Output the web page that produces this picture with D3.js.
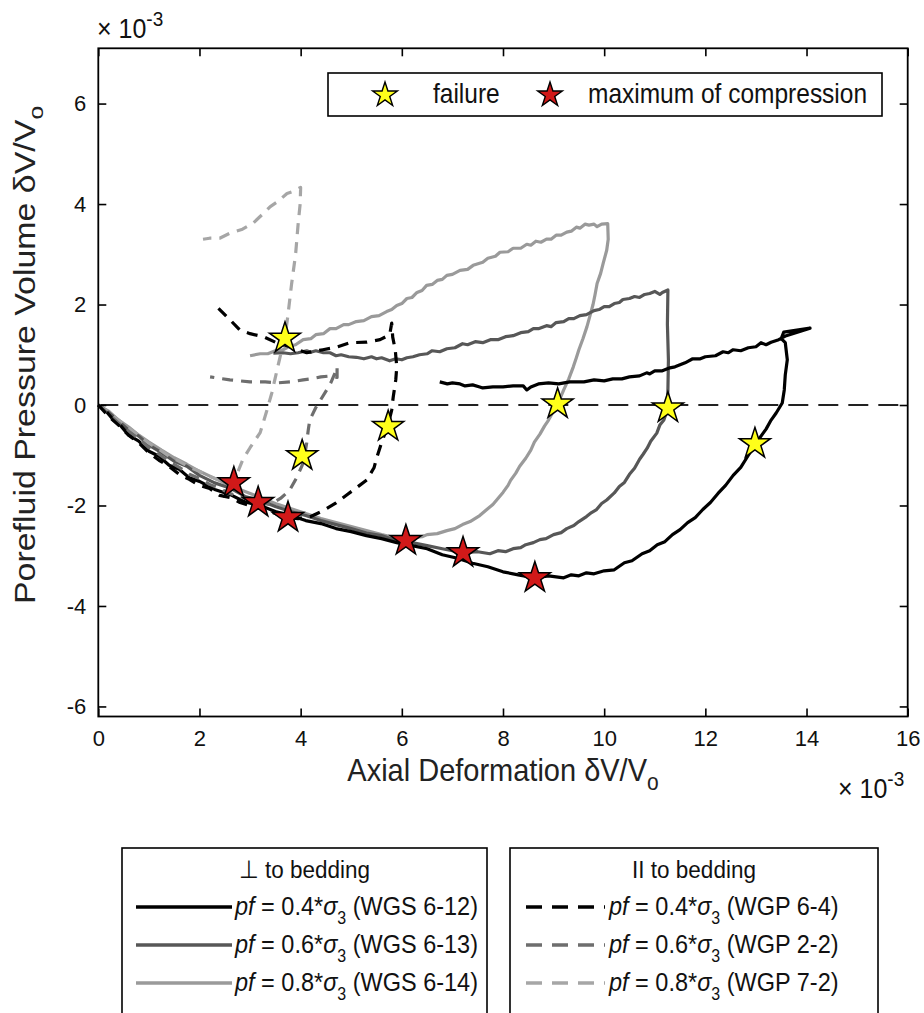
<!DOCTYPE html>
<html>
<head>
<meta charset="utf-8">
<script src="https://cdn.jsdelivr.net/npm/d3@7"></script>
<style>
  html, body { margin: 0; padding: 0; background: #fff; }
  svg { display: block; font-family: "Liberation Sans", Arial, Helvetica, sans-serif; }
</style>
</head>
<body>
<svg id="chart" width="924" height="1013"></svg>
<script>
// Axis ticks (values in units of 1e-3)
const xTicks = [0, 2, 4, 6, 8, 10, 12, 14, 16];
const yTicks = [-6, -4, -2, 0, 2, 4, 6];

// Perpendicular to bedding: solid curves, [axial, porefluid] x 1e-3
const wgs612 = [[0,0],[0.15,-0.12],[0.3,-0.3],[0.45,-0.42],[0.6,-0.6],[0.8,-0.72],[1.0,-0.92],[1.2,-1.02],[1.4,-1.2],[1.6,-1.28],[1.8,-1.45],[2.0,-1.52],[2.3,-1.68],[2.6,-1.78],[2.9,-1.93],[3.2,-2.0],[3.5,-2.12],[3.8,-2.2],[4.1,-2.3],[4.4,-2.36],[4.7,-2.46],[5.0,-2.52],[5.3,-2.6],[5.6,-2.66],[5.9,-2.74],[6.2,-2.8],[6.5,-2.86],[6.8,-2.98],[7.1,-3.05],[7.4,-3.15],[7.7,-3.22],[8.0,-3.32],[8.3,-3.38],[8.63,-3.44],[8.9,-3.4],[9.2,-3.44],[9.35,-3.38],[9.5,-3.4],[9.65,-3.34],[9.8,-3.36],[10.0,-3.3],[10.2,-3.28],[10.4,-3.14],[10.55,-3.1],[10.65,-3.03],[10.75,-2.96],[10.9,-2.9],[11.05,-2.78],[11.2,-2.72],[11.35,-2.58],[11.5,-2.48],[11.65,-2.34],[11.8,-2.24],[11.95,-2.08],[12.1,-1.94],[12.25,-1.76],[12.4,-1.6],[12.55,-1.4],[12.7,-1.24],[12.85,-1.0],[12.98,-0.8],[13.1,-0.62],[13.2,-0.48],[13.3,-0.3],[13.4,-0.16],[13.52,0.04],[13.56,0.3],[13.58,0.6],[13.62,0.9],[13.58,1.24],[13.5,1.32],[13.55,1.45],[14.07,1.53],[13.6,1.38],[13.45,1.3],[13.3,1.25],[13.2,1.2],[13.1,1.24],[13.0,1.16],[12.85,1.14],[12.7,1.08],[12.55,1.1],[12.45,1.04],[12.35,1.06],[12.2,0.98],[12.0,0.96],[11.9,0.92],[11.75,0.92],[11.6,0.84],[11.5,0.8],[11.4,0.76],[11.3,0.74],[11.15,0.68],[11.0,0.68],[10.9,0.62],[10.84,0.64],[10.7,0.58],[10.5,0.56],[10.35,0.52],[10.17,0.52],[10.0,0.48],[9.8,0.5],[9.6,0.46],[9.32,0.46],[9.1,0.42],[8.9,0.44],[8.7,0.42],[8.55,0.36],[8.47,0.3],[8.4,0.38],[8.2,0.38],[8.0,0.36],[7.8,0.36],[7.6,0.34],[7.54,0.36],[7.4,0.4],[7.25,0.38],[7.15,0.42],[7.0,0.44],[6.9,0.42],[6.75,0.46]];
const wgs613 = [[0,0],[0.2,-0.15],[0.4,-0.32],[0.6,-0.5],[0.8,-0.62],[1.0,-0.8],[1.25,-0.95],[1.5,-1.12],[1.75,-1.22],[2.0,-1.4],[2.3,-1.55],[2.6,-1.65],[2.9,-1.82],[3.2,-1.9],[3.5,-2.02],[3.8,-2.12],[4.1,-2.2],[4.4,-2.3],[4.7,-2.38],[5.0,-2.46],[5.3,-2.55],[5.6,-2.6],[5.9,-2.7],[6.2,-2.74],[6.5,-2.8],[6.8,-2.86],[7.0,-2.9],[7.21,-2.94],[7.5,-2.92],[7.74,-2.96],[7.9,-2.9],[8.05,-2.92],[8.2,-2.86],[8.35,-2.84],[8.45,-2.78],[8.6,-2.74],[8.73,-2.68],[8.85,-2.66],[9.0,-2.58],[9.15,-2.54],[9.26,-2.46],[9.4,-2.4],[9.5,-2.32],[9.65,-2.22],[9.75,-2.14],[9.85,-2.08],[9.95,-1.96],[10.05,-1.89],[10.2,-1.75],[10.3,-1.62],[10.4,-1.54],[10.5,-1.38],[10.6,-1.26],[10.7,-1.08],[10.77,-0.98],[10.85,-0.86],[10.92,-0.72],[11.04,-0.56],[11.1,-0.4],[11.18,-0.3],[11.24,-0.12],[11.26,0.3],[11.27,0.9],[11.25,1.6],[11.26,2.29],[11.15,2.24],[11.1,2.2],[11.0,2.26],[10.9,2.22],[10.8,2.2],[10.7,2.14],[10.6,2.16],[10.5,2.12],[10.37,2.1],[10.3,2.04],[10.2,2.02],[10.1,1.96],[10.0,1.96],[9.9,1.9],[9.8,1.88],[9.65,1.8],[9.52,1.78],[9.4,1.72],[9.3,1.72],[9.2,1.66],[9.05,1.64],[8.95,1.56],[8.86,1.58],[8.7,1.52],[8.6,1.52],[8.5,1.46],[8.35,1.44],[8.2,1.38],[8.05,1.36],[7.9,1.3],[7.75,1.3],[7.6,1.24],[7.45,1.26],[7.3,1.2],[7.2,1.22],[7.05,1.14],[6.89,1.12],[6.75,1.06],[6.6,1.08],[6.5,1.02],[6.35,1.0],[6.22,0.96],[6.1,0.94],[6.0,0.9],[5.88,0.92],[5.76,0.88],[5.6,0.94],[5.5,0.92],[5.4,0.96],[5.25,0.92],[5.1,0.95],[4.95,0.96],[4.8,1.0],[4.7,0.98],[4.58,1.04],[4.45,1.04],[4.3,1.08],[4.2,1.05],[4.12,1.08],[3.95,1.04],[3.8,1.02],[3.65,1.04],[3.46,1.03]];
const wgs614 = [[0,0],[0.2,-0.12],[0.4,-0.3],[0.6,-0.44],[0.8,-0.6],[1.0,-0.74],[1.25,-0.9],[1.5,-1.05],[1.75,-1.18],[2.0,-1.32],[2.3,-1.46],[2.6,-1.6],[2.9,-1.72],[3.2,-1.84],[3.5,-1.96],[3.8,-2.06],[4.1,-2.16],[4.4,-2.26],[4.7,-2.34],[5.0,-2.42],[5.3,-2.5],[5.6,-2.58],[5.85,-2.64],[6.08,-2.7],[6.22,-2.64],[6.4,-2.62],[6.5,-2.58],[6.7,-2.56],[6.89,-2.5],[7.05,-2.46],[7.2,-2.38],[7.35,-2.32],[7.54,-2.2],[7.68,-2.08],[7.8,-1.98],[7.9,-1.86],[8.0,-1.74],[8.1,-1.6],[8.15,-1.5],[8.25,-1.36],[8.33,-1.22],[8.45,-1.06],[8.55,-0.9],[8.62,-0.74],[8.73,-0.58],[8.82,-0.42],[8.9,-0.3],[9.0,-0.12],[9.06,-0.03],[9.15,0.18],[9.2,0.3],[9.3,0.52],[9.39,0.76],[9.45,0.94],[9.5,1.1],[9.58,1.32],[9.66,1.56],[9.72,1.78],[9.78,2.0],[9.82,2.2],[9.86,2.42],[9.93,2.62],[9.98,2.82],[10.05,3.08],[10.08,3.3],[10.07,3.61],[9.95,3.6],[9.86,3.55],[9.8,3.6],[9.7,3.58],[9.62,3.6],[9.52,3.52],[9.45,3.54],[9.35,3.46],[9.26,3.44],[9.15,3.38],[9.05,3.38],[8.95,3.3],[8.86,3.3],[8.75,3.24],[8.65,3.26],[8.55,3.18],[8.47,3.2],[8.35,3.12],[8.2,3.12],[8.1,3.05],[7.94,3.04],[7.85,2.96],[7.7,2.92],[7.6,2.84],[7.41,2.78],[7.3,2.7],[7.15,2.68],[7.0,2.6],[6.89,2.58],[6.8,2.5],[6.7,2.48],[6.6,2.4],[6.49,2.38],[6.4,2.28],[6.3,2.24],[6.2,2.14],[6.1,2.12],[6.0,2.02],[5.9,1.98],[5.8,1.9],[5.7,1.86],[5.55,1.78],[5.4,1.76],[5.25,1.68],[5.1,1.66],[4.95,1.6],[4.85,1.6],[4.7,1.52],[4.58,1.52],[4.45,1.42],[4.3,1.4],[4.2,1.32],[4.05,1.3],[3.9,1.2],[3.8,1.18],[3.65,1.1],[3.5,1.08],[3.35,1.02],[3.2,1.02],[3.0,0.98]];

// Parallel to bedding: dashed curves
const wgp64 = [[0,0],[0.2,-0.22],[0.4,-0.4],[0.6,-0.6],[0.8,-0.75],[1.0,-0.95],[1.2,-1.1],[1.4,-1.22],[1.6,-1.38],[1.8,-1.48],[2.0,-1.6],[2.2,-1.66],[2.4,-1.8],[2.6,-1.84],[2.8,-1.94],[3.0,-2.0],[3.2,-2.06],[3.4,-2.12],[3.6,-2.2],[3.75,-2.24],[3.95,-2.26],[4.2,-2.22],[4.45,-2.1],[4.7,-1.95],[4.91,-1.79],[5.1,-1.65],[5.31,-1.49],[5.45,-1.25],[5.51,-1.03],[5.6,-0.75],[5.73,-0.39],[5.8,-0.1],[5.83,0.16],[5.88,0.5],[5.9,0.76],[5.87,1.1],[5.82,1.35],[5.8,1.63],[5.76,1.4],[5.57,1.3],[5.3,1.25],[4.97,1.24],[4.7,1.15],[4.44,1.1],[4.12,1.04],[3.95,1.1],[3.79,1.16],[3.5,1.25],[3.26,1.36],[3.0,1.42],[2.8,1.49],[2.6,1.7],[2.37,1.93]];
const wgp22 = [[0,0],[0.2,-0.18],[0.4,-0.36],[0.6,-0.52],[0.8,-0.68],[1.0,-0.85],[1.2,-0.98],[1.4,-1.12],[1.6,-1.24],[1.8,-1.38],[2.0,-1.46],[2.2,-1.58],[2.4,-1.66],[2.6,-1.76],[2.8,-1.82],[3.0,-1.9],[3.16,-1.94],[3.4,-1.98],[3.6,-1.86],[3.78,-1.7],[3.93,-1.43],[4.03,-1.2],[4.08,-1.0],[4.12,-0.75],[4.15,-0.5],[4.18,-0.3],[4.3,-0.05],[4.51,0.29],[4.6,0.45],[4.68,0.64],[4.72,0.76],[4.72,0.55],[4.6,0.58],[4.4,0.56],[4.2,0.52],[4.05,0.5],[3.8,0.46],[3.53,0.44],[3.3,0.46],[3.0,0.46],[2.8,0.48],[2.6,0.5],[2.4,0.53],[2.21,0.56]];
const wgp72 = [[0,0],[0.2,-0.14],[0.4,-0.3],[0.6,-0.46],[0.8,-0.6],[1.0,-0.76],[1.2,-0.88],[1.4,-1.02],[1.6,-1.12],[1.8,-1.24],[2.0,-1.32],[2.2,-1.42],[2.4,-1.5],[2.55,-1.56],[2.68,-1.55],[2.75,-1.35],[2.86,-1.08],[3.0,-0.85],[3.2,-0.55],[3.32,-0.15],[3.43,0.24],[3.5,0.55],[3.58,0.9],[3.65,1.2],[3.69,1.33],[3.75,1.8],[3.82,2.4],[3.9,3.0],[3.95,3.6],[3.99,4.0],[4.0,4.33],[3.85,4.25],[3.73,4.21],[3.55,4.05],[3.4,3.95],[3.25,3.8],[3.06,3.62],[2.85,3.5],[2.6,3.42],[2.4,3.32],[2.2,3.32],[2.07,3.3]];

// Marked events
const failureX = [3.69, 4.03, 5.73, 9.08, 11.26, 12.98];
const failureY = [1.33, -1.01, -0.43, 0.02, -0.06, -0.77];
const maxCompX = [2.68, 3.16, 3.75, 6.08, 7.21, 8.63];
const maxCompY = [-1.55, -1.94, -2.24, -2.70, -2.94, -3.44];

const seriesNames = ["WGS 6-12", "WGS 6-13", "WGS 6-14", "WGP 6-4", "WGP 2-2", "WGP 7-2"];
const seriesRatios = ["0.4", "0.6", "0.8", "0.4", "0.6", "0.8"];

const svg = d3.select("#chart");
const plot = { left: 98.3, right: 907.7, top: 48.3, bottom: 716.5 };

const x = d3.scaleLinear().domain([0, 16]).range([plot.left, plot.right]);
const y = d3.scaleLinear().domain([-6.2, 7.1]).range([plot.bottom, plot.top]);

// text glyphs are drawn slightly taller than wide
const SY = 1.1;
function textAt(parent, px, py, size) {
  return parent.append("g").attr("transform", `translate(${px},${py}) scale(1,${SY})`)
    .append("text").attr("font-size", size).attr("fill", "#111");
}

const styles = [
  { data: wgs614, color: "#9a9a9a", dash: null },
  { data: wgs613, color: "#575757", dash: null },
  { data: wgs612, color: "#000000", dash: null },
  { data: wgp72, color: "#a6a6a6", dash: "11,8" },
  { data: wgp22, color: "#6e6e6e", dash: "11,8" },
  { data: wgp64, color: "#000000", dash: "11,8" }
];

const line = d3.line().x(d => x(d[0])).y(d => y(d[1]));

// zero reference line
svg.append("line")
  .attr("x1", x(0)).attr("x2", x(16))
  .attr("y1", y(0)).attr("y2", y(0))
  .attr("stroke", "#222").attr("stroke-width", 2)
  .attr("stroke-dasharray", "20,10");

const curves = svg.append("g").attr("fill", "none").attr("stroke-linejoin", "round");
styles.forEach(s => {
  curves.append("path")
    .attr("d", line(s.data))
    .attr("stroke", s.color)
    .attr("stroke-width", 3.2)
    .attr("stroke-dasharray", s.dash);
});

// star markers
const starBig = d3.symbol().type(d3.symbolStar).size(300);
const starSmall = d3.symbol().type(d3.symbolStar).size(190);

const marks = svg.append("g");
failureX.forEach((v, i) => {
  marks.append("path").attr("d", starBig())
    .attr("transform", `translate(${x(v)},${y(failureY[i])})`)
    .attr("fill", "#ffff1a").attr("stroke", "#000").attr("stroke-width", 1.5);
});
maxCompX.forEach((v, i) => {
  marks.append("path").attr("d", starBig())
    .attr("transform", `translate(${x(v)},${y(maxCompY[i])})`)
    .attr("fill", "#d11919").attr("stroke", "#000").attr("stroke-width", 1.5);
});

// axes box with inward ticks on all sides
const tickLen = 8;
const axisG = svg.append("g").attr("stroke", "#000").attr("stroke-width", 1.8);
axisG.append("rect")
  .attr("x", plot.left).attr("y", plot.top)
  .attr("width", plot.right - plot.left).attr("height", plot.bottom - plot.top)
  .attr("fill", "none");

const fmt = d => String(d);
const xAxisB = d3.axisBottom(x).tickValues(xTicks).tickFormat(fmt).tickSizeInner(-tickLen).tickSizeOuter(0).tickPadding(14);
const xAxisT = d3.axisTop(x).tickValues(xTicks).tickSizeInner(-tickLen).tickSizeOuter(0).tickFormat("");
const yAxisL = d3.axisLeft(y).tickValues(yTicks).tickFormat(fmt).tickSizeInner(-tickLen).tickSizeOuter(0).tickPadding(12);
const yAxisR = d3.axisRight(y).tickValues(yTicks).tickSizeInner(-tickLen).tickSizeOuter(0).tickFormat("");

function styleAxis(g) {
  g.select(".domain").remove();
  g.selectAll(".tick line").attr("stroke", "#000").attr("stroke-width", 1.6);
  g.selectAll(".tick text").attr("fill", "#111").attr("font-size", 22)
    .attr("font-family", "Liberation Sans, Arial, sans-serif");
}
svg.append("g").attr("transform", `translate(0,${plot.bottom})`).call(xAxisB).call(styleAxis);
svg.append("g").attr("transform", `translate(0,${plot.top})`).call(xAxisT).call(styleAxis);
svg.append("g").attr("transform", `translate(${plot.left},0)`).call(yAxisL).call(styleAxis);
svg.append("g").attr("transform", `translate(${plot.right},0)`).call(yAxisR).call(styleAxis);

// exponent labels
function exponent(xp, yp) {
  const t = textAt(svg, xp, yp, 25);
  t.append("tspan").text("\u00d7 10");
  t.append("tspan").attr("dy", -11).attr("font-size", 19).text("-3");
}
exponent(97, 38);
exponent(838, 798);

// axis titles
const xt = textAt(svg, 503, 781, 29).attr("text-anchor", "middle").attr("fill", "#222");
xt.append("tspan").text("Axial Deformation \u03b4V/V");
xt.append("tspan").attr("dy", 8).attr("font-size", 21).text("o");

const yt = svg.append("text").attr("transform", `translate(35,355) rotate(-90) scale(${SY + 0.07},1)`)
  .attr("text-anchor", "middle").attr("font-size", 29).attr("fill", "#222");
yt.append("tspan").text("Porefluid Pressure Volume \u03b4V/V");
yt.append("tspan").attr("dy", 8).attr("font-size", 21).text("o");

// marker legend
const lg = svg.append("g");
lg.append("rect").attr("x", 328).attr("y", 73).attr("width", 554).attr("height", 43)
  .attr("fill", "#fff").attr("stroke", "#000").attr("stroke-width", 1.6);
lg.append("path").attr("d", starSmall()).attr("transform", "translate(385,95)")
  .attr("fill", "#ffff1a").attr("stroke", "#000").attr("stroke-width", 1.4);
textAt(lg, 433, 103, 24.5).text("failure");
lg.append("path").attr("d", starSmall()).attr("transform", "translate(550,95)")
  .attr("fill", "#d11919").attr("stroke", "#000").attr("stroke-width", 1.4);
textAt(lg, 588, 103, 24.5).text("maximum of compression");

// series legends
function seriesLegend(bx, bw, title, idx) {
  const g = svg.append("g");
  g.append("rect").attr("x", bx).attr("y", 848).attr("width", bw).attr("height", 180)
    .attr("fill", "#fff").attr("stroke", "#000").attr("stroke-width", 1.6);
  textAt(g, bx + bw / 2, 878, 22.5).attr("text-anchor", "middle").text(title);
  idx.forEach((k, r) => {
    const ly = 907 + r * 38;
    const s = styles[[2, 1, 0, 5, 4, 3][k]];
    const isDash = s.dash !== null;
    g.append("line")
      .attr("x1", bx + (isDash ? 16 : 14)).attr("x2", bx + (isDash ? 95 : 110))
      .attr("y1", ly).attr("y2", ly)
      .attr("stroke", s.color).attr("stroke-width", 3.5)
      .attr("stroke-dasharray", isDash ? "16,10" : null);
    const t = textAt(g, bx + (isDash ? 99 : 113), ly + 8, 23.5);
    t.append("tspan").attr("font-style", "italic").text("pf");
    t.append("tspan").text(` = ${seriesRatios[k]}*`);
    t.append("tspan").attr("font-style", "italic").text("\u03c3");
    t.append("tspan").attr("dy", 8).attr("font-size", 16).text("3");
    t.append("tspan").attr("dy", -8).text(` (${seriesNames[k]})`);
  });
}
seriesLegend(122, 365, "\u22a5 to bedding", [0, 1, 2]);
seriesLegend(510, 368, "II to bedding", [3, 4, 5]);
</script>
</body>
</html>
